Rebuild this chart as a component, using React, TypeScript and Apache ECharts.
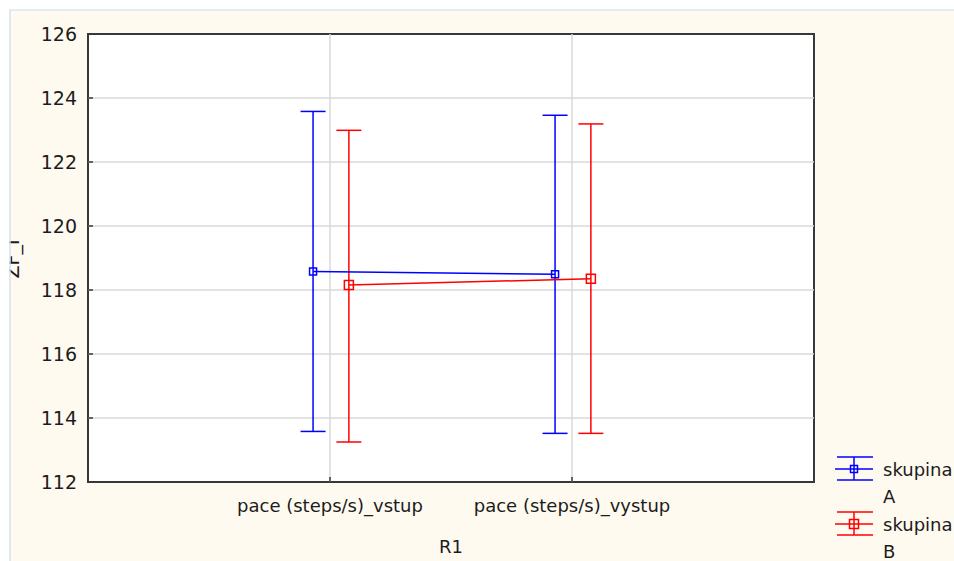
import React, { useEffect, useRef } from "react";
import * as echarts from "echarts";

// Repeated-measures plot: group means with ± interval whiskers
const categories = ["pace (steps/s)_vstup", "pace (steps/s)_vystup"];
const groupLabel = "skupina";
const groups = ["A", "B"];
const meansA = [118.58, 118.49];
const upperA = [123.58, 123.46];
const lowerA = [113.58, 113.52];
const meansB = [118.16, 118.35];
const upperB = [122.99, 123.19];
const lowerB = [113.25, 113.52];
const yTicks = [112, 114, 116, 118, 120, 122, 124, 126];
const xAxisTitle = "R1";
const yAxisTitle = "ZF_I";

const COLORS = ["#0000ff", "#ff0000"];
const OFFSETS = [-0.07, 0.078];
const MARKER_SIZES = [7, 9];
const FONT = "DejaVu Sans";
const TEXT = "#1c1c1c";
const FRAME = "#383838";

const seriesData = [
  { means: meansA, upper: upperA, lower: lowerA },
  { means: meansB, upper: upperB, lower: lowerB },
];

function buildSeries(): any[] {
  const out: any[] = [];
  seriesData.forEach((s, gi) => {
    const color = COLORS[gi];
    out.push({
      type: "custom",
      name: `${groupLabel} ${groups[gi]} interval`,
      data: s.means.map((_, i) => [i + 1 + OFFSETS[gi], s.lower[i], s.upper[i]]),
      encode: { x: 0, y: [1, 2] },
      z: 3,
      renderItem: (_params: any, api: any) => {
        const x = api.value(0);
        const lo = api.coord([x, api.value(1)]);
        const hi = api.coord([x, api.value(2)]);
        const hw = 12.5;
        const style = { stroke: color, lineWidth: 1.5 };
        return {
          type: "group",
          children: [
            { type: "line", shape: { x1: lo[0], y1: lo[1], x2: hi[0], y2: hi[1] }, style },
            { type: "line", shape: { x1: hi[0] - hw, y1: hi[1], x2: hi[0] + hw, y2: hi[1] }, style },
            { type: "line", shape: { x1: lo[0] - hw, y1: lo[1], x2: lo[0] + hw, y2: lo[1] }, style },
          ],
        };
      },
    });
    out.push({
      type: "line",
      name: `${groupLabel} ${groups[gi]}`,
      data: s.means.map((m, i) => [i + 1 + OFFSETS[gi], m]),
      symbol: "rect",
      symbolSize: MARKER_SIZES[gi],
      showAllSymbol: true,
      z: 4,
      lineStyle: { color, width: 1.5 },
      itemStyle: { color: "rgba(255,255,255,0)", borderColor: color, borderWidth: 1.5 },
    });
  });
  return out;
}

function legendGraphics(): any[] {
  const items: any[] = [];
  const rows = [469, 524];
  groups.forEach((g, gi) => {
    const color = COLORS[gi];
    const cy = rows[gi];
    const cx = 854;
    const st = { stroke: color, lineWidth: 1.5, fill: null };
    const ms = MARKER_SIZES[gi];
    items.push(
      { type: "line", shape: { x1: cx, y1: cy - 12, x2: cx, y2: cy + 11 }, style: st, z: 10 },
      { type: "line", shape: { x1: cx - 17, y1: cy - 12, x2: cx + 19, y2: cy - 12 }, style: st, z: 10 },
      { type: "line", shape: { x1: cx - 19, y1: cy, x2: cx + 19, y2: cy }, style: st, z: 10 },
      { type: "line", shape: { x1: cx - 17, y1: cy + 11, x2: cx + 19, y2: cy + 11 }, style: st, z: 10 },
      {
        type: "rect",
        shape: { x: cx - ms / 2, y: cy - ms / 2, width: ms, height: ms },
        style: { stroke: color, lineWidth: 1.5, fill: "rgba(255,255,255,0)" },
        z: 10,
      },
      {
        type: "text",
        x: 883,
        y: cy - 13,
        z: 10,
        style: {
          text: `${groupLabel}\n${g}`,
          fill: TEXT,
          font: `18px '${FONT}'`,
          lineHeight: 27,
          align: "left",
          verticalAlign: "top",
        },
      }
    );
  });
  return items;
}

export default function App() {
  const ref = useRef<HTMLDivElement>(null);

  useEffect(() => {
    if (!ref.current) return;
    const chart = echarts.init(ref.current, undefined, { renderer: "svg" });
    const split = {
      show: true,
      showMinLine: false,
      showMaxLine: false,
      lineStyle: { color: "#d9d9d9", width: 1.5 },
    };
    chart.setOption({
      animation: false,
      backgroundColor: "#ffffff",
      textStyle: { fontFamily: FONT },
      grid: {
        left: 88,
        right: 140,
        top: 34,
        bottom: 79,
        show: true,
        backgroundColor: "#ffffff",
        borderColor: FRAME,
        borderWidth: 2,
      },
      xAxis: {
        type: "value",
        min: 0,
        max: 3,
        interval: 1,
        name: xAxisTitle,
        nameLocation: "middle",
        nameGap: 55,
        nameTextStyle: { fontSize: 18, color: TEXT, fontFamily: FONT },
        axisLine: { show: false },
        axisTick: { show: true, inside: true, length: 5, lineStyle: { color: FRAME, width: 1.5 } },
        axisLabel: {
          fontSize: 18,
          color: TEXT,
          fontFamily: FONT,
          margin: 14,
          formatter: (v: number) => categories[v - 1] ?? "",
        },
        splitLine: split,
      },
      yAxis: {
        type: "value",
        min: yTicks[0],
        max: yTicks[yTicks.length - 1],
        interval: yTicks[1] - yTicks[0],
        axisLine: { show: false },
        axisTick: { show: true, inside: true, length: 5, lineStyle: { color: FRAME, width: 1.5 } },
        axisLabel: { fontSize: 19, color: TEXT, fontFamily: FONT, margin: 11 },
        splitLine: split,
      },
      graphic: [
        {
          type: "rect",
          shape: { x: 10, y: 10, width: 960, height: 560 },
          style: { fill: "#fffaf0", stroke: "#dce6f1", lineWidth: 1.5 },
          z: -10,
          silent: true,
        },
        {
          type: "text",
          x: 12,
          y: 259,
          rotation: Math.PI / 2,
          z: 5,
          style: {
            text: yAxisTitle,
            fill: TEXT,
            font: `19px '${FONT}'`,
            align: "center",
            verticalAlign: "middle",
          },
        },
        {
          type: "rect",
          shape: { x: 0, y: 0, width: 9.2, height: 561 },
          style: { fill: "#ffffff" },
          z: 20,
          silent: true,
        },
        {
          type: "line",
          shape: { x1: 9.9, y1: 10, x2: 9.9, y2: 561 },
          style: { stroke: "#dce6f1", lineWidth: 1.5 },
          z: 21,
          silent: true,
        },
        ...legendGraphics(),
      ],
      series: buildSeries(),
    });
    return () => chart.dispose();
  }, []);

  return (
    <div
      ref={ref}
      style={{ position: "fixed", left: 0, top: 0, width: 954, height: 561 }}
    />
  );
}
